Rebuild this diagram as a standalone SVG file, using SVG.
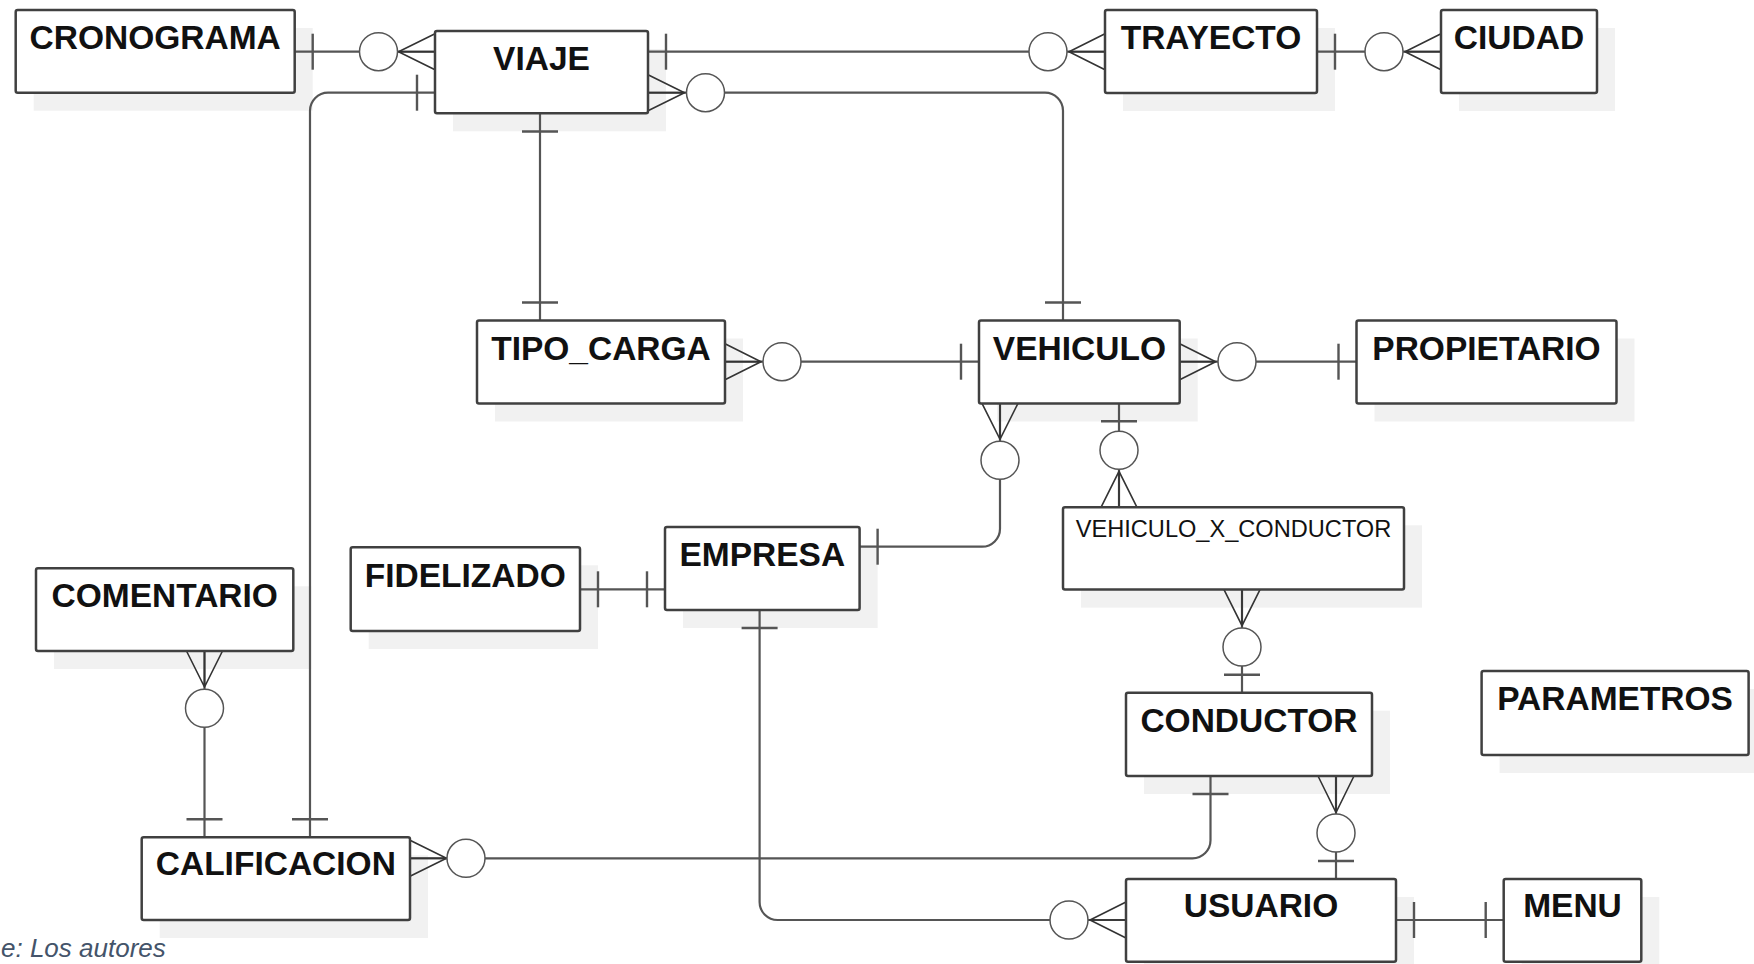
<svg xmlns="http://www.w3.org/2000/svg" width="1754" height="964" viewBox="0 0 1754 964">
<style>
.bg{fill:#ffffff}
.shadow{fill:#f1f1f1;stroke:none}
.box{fill:#ffffff;stroke:#404040;stroke-width:2.5}
.name{font-family:"Liberation Sans",Arial,sans-serif;font-weight:bold;font-size:33.5px;fill:#111111;text-anchor:middle}
.small{font-family:"Liberation Sans",Arial,sans-serif;font-weight:normal;font-size:23.6px;fill:#111111;text-anchor:middle}
.line{fill:none;stroke:#555555;stroke-width:2.2}
.bar{fill:none;stroke:#555555;stroke-width:2.4}
.crow{fill:none;stroke:#333333;stroke-width:1.6}
.ring{fill:#ffffff;stroke:#555555;stroke-width:1.5}
.cap{font-family:"Liberation Sans",Arial,sans-serif;font-style:italic;font-size:26px;fill:#44546a}
</style>
<rect class="bg" x="0" y="0" width="1754" height="964"/>

<g id="shadows">
<rect class="shadow" x="33.7" y="28" width="279" height="82.7"/>
<rect class="shadow" x="453" y="49" width="213" height="82.3"/>
<rect class="shadow" x="1123" y="28" width="212" height="83"/>
<rect class="shadow" x="1459" y="28" width="156" height="83"/>
<rect class="shadow" x="495" y="338.5" width="248" height="83"/>
<rect class="shadow" x="997" y="338.5" width="200.7" height="83"/>
<rect class="shadow" x="1374.5" y="338.5" width="260" height="83"/>
<rect class="shadow" x="1081" y="525.3" width="341" height="82.3"/>
<rect class="shadow" x="683" y="545" width="194.6" height="83"/>
<rect class="shadow" x="368.7" y="565.3" width="229.3" height="83.7"/>
<rect class="shadow" x="54" y="586.3" width="257.3" height="82.7"/>
<rect class="shadow" x="1499.6" y="689" width="254.4" height="84"/>
<rect class="shadow" x="1144" y="710.7" width="246" height="83.3"/>
<rect class="shadow" x="159.7" y="855.3" width="268.3" height="82.7"/>
<rect class="shadow" x="1144" y="897" width="270" height="82.7"/>
<rect class="shadow" x="1521.7" y="897" width="137.6" height="82.7"/>
</g>

<g id="connectors">
<!-- CRONOGRAMA - VIAJE -->
<line class="line" x1="294.7" y1="51.7" x2="435" y2="51.7"/>
<line class="bar" x1="312.7" y1="33.7" x2="312.7" y2="69.7"/>
<path class="crow" d="M435 33.7 L398.5 51.7 L435 69.7 M398.5 51.7 H435"/>
<circle class="ring" cx="378.5" cy="51.7" r="19"/>
<!-- VIAJE - TRAYECTO -->
<line class="line" x1="648" y1="51.7" x2="1105" y2="51.7"/>
<line class="bar" x1="666" y1="33.7" x2="666" y2="69.7"/>
<path class="crow" d="M1105 33.7 L1069 51.7 L1105 69.7 M1069 51.7 H1105"/>
<circle class="ring" cx="1048" cy="51.7" r="19"/>
<!-- TRAYECTO - CIUDAD -->
<line class="line" x1="1317" y1="51.7" x2="1441" y2="51.7"/>
<line class="bar" x1="1335" y1="33.7" x2="1335" y2="69.7"/>
<path class="crow" d="M1441 33.7 L1405 51.7 L1441 69.7 M1405 51.7 H1441"/>
<circle class="ring" cx="1384" cy="51.7" r="19"/>
<!-- VIAJE - VEHICULO -->
<path class="line" d="M648 92.7 H1045 A18 18 0 0 1 1063 110.7 V320.5"/>
<path class="crow" d="M648 74.7 L684.5 92.7 L648 110.7 M684.5 92.7 H648"/>
<circle class="ring" cx="705.5" cy="92.7" r="19"/>
<line class="bar" x1="1045" y1="302.5" x2="1081" y2="302.5"/>
<!-- VIAJE - CALIFICACION -->
<path class="line" d="M435 92.7 H328 A18 18 0 0 0 310 110.7 V837.3"/>
<line class="bar" x1="417" y1="74.7" x2="417" y2="110.7"/>
<line class="bar" x1="292" y1="819.3" x2="328" y2="819.3"/>
<!-- VIAJE - TIPO_CARGA -->
<line class="line" x1="540" y1="113.3" x2="540" y2="320.5"/>
<line class="bar" x1="522" y1="131.5" x2="558" y2="131.5"/>
<line class="bar" x1="522" y1="302.5" x2="558" y2="302.5"/>
<!-- TIPO_CARGA - VEHICULO -->
<line class="line" x1="725" y1="361.7" x2="979" y2="361.7"/>
<path class="crow" d="M725 343.7 L761 361.7 L725 379.7 M761 361.7 H725"/>
<circle class="ring" cx="782" cy="361.7" r="19"/>
<line class="bar" x1="961" y1="343.7" x2="961" y2="379.7"/>
<!-- VEHICULO - PROPIETARIO -->
<line class="line" x1="1179.7" y1="361.7" x2="1356.5" y2="361.7"/>
<path class="crow" d="M1179.7 343.7 L1215.7 361.7 L1179.7 379.7 M1215.7 361.7 H1179.7"/>
<circle class="ring" cx="1237" cy="361.7" r="19"/>
<line class="bar" x1="1338.5" y1="343.7" x2="1338.5" y2="379.7"/>
<!-- VEHICULO - EMPRESA -->
<path class="line" d="M1000 403.3 V528.7 A18 18 0 0 1 982 546.7 H859.6"/>
<path class="crow" d="M982 403.3 L1000 439.3 L1018 403.3 M1000 439.3 V403.3"/>
<circle class="ring" cx="1000" cy="460.3" r="19"/>
<line class="bar" x1="877.6" y1="528.7" x2="877.6" y2="564.7"/>
<!-- VEHICULO - VEHICULO_X_CONDUCTOR -->
<line class="line" x1="1119" y1="403.3" x2="1119" y2="507.3"/>
<line class="bar" x1="1101" y1="421.3" x2="1137" y2="421.3"/>
<path class="crow" d="M1101 507.3 L1119 471.3 L1137 507.3 M1119 471.3 V507.3"/>
<circle class="ring" cx="1119" cy="450.3" r="19"/>
<!-- VEHICULO_X_CONDUCTOR - CONDUCTOR -->
<line class="line" x1="1242" y1="589.6" x2="1242" y2="692.7"/>
<path class="crow" d="M1224 589.6 L1242 625.6 L1260 589.6 M1242 625.6 V589.6"/>
<circle class="ring" cx="1242" cy="647" r="19"/>
<line class="bar" x1="1224" y1="674.7" x2="1260" y2="674.7"/>
<!-- FIDELIZADO - EMPRESA -->
<line class="line" x1="580" y1="589.3" x2="665" y2="589.3"/>
<line class="bar" x1="598" y1="571.3" x2="598" y2="607.3"/>
<line class="bar" x1="647" y1="571.3" x2="647" y2="607.3"/>
<!-- COMENTARIO - CALIFICACION -->
<line class="line" x1="204.5" y1="651" x2="204.5" y2="837.3"/>
<path class="crow" d="M186.5 651 L204.5 687 L222.5 651 M204.5 687 V651"/>
<circle class="ring" cx="204.5" cy="708.3" r="19"/>
<line class="bar" x1="186.5" y1="819.3" x2="222.5" y2="819.3"/>
<!-- CALIFICACION - CONDUCTOR -->
<path class="line" d="M410 858.3 H1192.5 A18 18 0 0 0 1210.5 840.3 V776"/>
<path class="crow" d="M410 840.3 L446.5 858.3 L410 876.3 M446.5 858.3 H410"/>
<circle class="ring" cx="466" cy="858.3" r="19"/>
<line class="bar" x1="1192.5" y1="794" x2="1228.5" y2="794"/>
<!-- CONDUCTOR - USUARIO -->
<line class="line" x1="1336" y1="776" x2="1336" y2="879"/>
<path class="crow" d="M1318 776 L1336 812.5 L1354 776 M1336 812.5 V776"/>
<circle class="ring" cx="1336" cy="833" r="19"/>
<line class="bar" x1="1318" y1="861" x2="1354" y2="861"/>
<!-- EMPRESA - USUARIO -->
<path class="line" d="M759.6 610 V902 A18 18 0 0 0 777.6 920 H1126"/>
<line class="bar" x1="741.6" y1="628" x2="777.6" y2="628"/>
<path class="crow" d="M1126 902 L1090 920 L1126 938 M1090 920 H1126"/>
<circle class="ring" cx="1069" cy="920" r="19"/>
<!-- USUARIO - MENU -->
<line class="line" x1="1396" y1="920" x2="1503.7" y2="920"/>
<line class="bar" x1="1414" y1="902" x2="1414" y2="938"/>
<line class="bar" x1="1485.7" y1="902" x2="1485.7" y2="938"/>
</g>

<g id="CRONOGRAMA"><rect class="box" x="15.7" y="10" width="279" height="82.7" rx="2"/><text class="name" x="155.2" y="49.3">CRONOGRAMA</text></g>
<g id="VIAJE"><rect class="box" x="435" y="31" width="213" height="82.3" rx="2"/><text class="name" x="541.5" y="70">VIAJE</text></g>
<g id="TRAYECTO"><rect class="box" x="1105" y="10" width="212" height="83" rx="2"/><text class="name" x="1211" y="49.3">TRAYECTO</text></g>
<g id="CIUDAD"><rect class="box" x="1441" y="10" width="156" height="83" rx="2"/><text class="name" x="1519" y="49.3">CIUDAD</text></g>
<g id="TIPO_CARGA"><rect class="box" x="477" y="320.5" width="248" height="83" rx="2"/><text class="name" x="601" y="359.5">TIPO_CARGA</text></g>
<g id="VEHICULO"><rect class="box" x="979" y="320.5" width="200.7" height="83" rx="2"/><text class="name" x="1079.4" y="359.5">VEHICULO</text></g>
<g id="PROPIETARIO"><rect class="box" x="1356.5" y="320.5" width="260" height="83" rx="2"/><text class="name" x="1486.5" y="359.5">PROPIETARIO</text></g>
<g id="VEHICULO_X_CONDUCTOR"><rect class="box" x="1063" y="507.3" width="341" height="82.3" rx="2"/><text class="small" x="1233.5" y="537.3">VEHICULO_X_CONDUCTOR</text></g>
<g id="EMPRESA"><rect class="box" x="665" y="527" width="194.6" height="83" rx="2"/><text class="name" x="762.3" y="565.7">EMPRESA</text></g>
<g id="FIDELIZADO"><rect class="box" x="350.7" y="547.3" width="229.3" height="83.7" rx="2"/><text class="name" x="465.3" y="586.7">FIDELIZADO</text></g>
<g id="COMENTARIO"><rect class="box" x="36" y="568.3" width="257.3" height="82.7" rx="2"/><text class="name" x="164.7" y="606.7">COMENTARIO</text></g>
<g id="PARAMETROS"><rect class="box" x="1481.6" y="671" width="267" height="84" rx="2"/><text class="name" x="1615.1" y="710">PARAMETROS</text></g>
<g id="CONDUCTOR"><rect class="box" x="1126" y="692.7" width="246" height="83.3" rx="2"/><text class="name" x="1249" y="731.7">CONDUCTOR</text></g>
<g id="CALIFICACION"><rect class="box" x="141.7" y="837.3" width="268.3" height="82.7" rx="2"/><text class="name" x="275.8" y="875">CALIFICACION</text></g>
<g id="USUARIO"><rect class="box" x="1126" y="879" width="270" height="82.7" rx="2"/><text class="name" x="1261" y="916.7">USUARIO</text></g>
<g id="MENU"><rect class="box" x="1503.7" y="879" width="137.6" height="82.7" rx="2"/><text class="name" x="1572.5" y="916.7">MENU</text></g>

<text class="cap" x="1" y="957">e: Los autores</text>
</svg>
